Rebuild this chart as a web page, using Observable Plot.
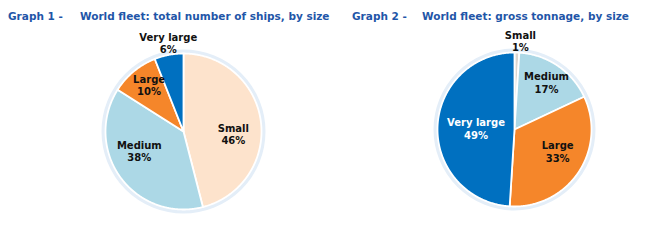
<!DOCTYPE html>
<html>
<head>
<meta charset="utf-8">
<script src="https://cdn.jsdelivr.net/npm/d3@7"></script>
<script src="https://cdn.jsdelivr.net/npm/@observablehq/plot@0.6"></script>
<style>
  html, body { margin: 0; padding: 0; background: #fff; }
  #wrap { width: 660px; height: 251px; position: relative; overflow: hidden; font-family: "DejaVu Sans", Verdana, sans-serif; }
  #titles { position: relative; height: 26px; }
  .t { position: absolute; top: 10px; font-size: 10.5px; font-weight: bold; color: #1f56a8; white-space: nowrap; }
</style>
</head>
<body>
<div id="wrap">
  <div id="titles">
    <span class="t" style="left:8px">Graph 1 -</span>
    <span class="t" style="left:80px">World fleet: total number of ships, by size</span>
    <span class="t" style="left:352px">Graph 2 -</span>
    <span class="t" style="left:422px">World fleet: gross tonnage, by size</span>
  </div>
  <div id="chart"></div>
</div>
<script>
// ---- data ----
const categories = ["Small", "Medium", "Large", "Very large"];
const shipsShare = [46, 38, 10, 6];      // Graph 1: % of number of ships
const tonnageShare = [1, 17, 33, 49];    // Graph 2: % of gross tonnage

// ---- styles / layout ----
const colors1 = ["#fde3cc", "#acd8e6", "#f5862a", "#0070c0"];
const colors2 = ["#ddd6cf", "#acd8e6", "#f5862a", "#0070c0"];
const W = 660, H = 225;
const pies = [
  {id: "g1", values: shipsShare, colors: colors1, cx: 183, cy: 105, r: 78,
   labelR: [0.64, 0.62, 0.74, 1.15], labelNudge: [10, 12, 3, 1], labelColor: ["#111", "#111", "#111", "#111"]},
  {id: "g2", values: tonnageShare, colors: colors2, cx: 514, cy: 103, r: 77,
   labelR: [1.15, 0.74, 0.63, 0.5], labelNudge: [2, 0, -7, 0], labelColor: ["#111", "#111", "#111", "#fff"]}
];

const slicePts = [];
const labels = [];
const halos = [];
for (const p of pies) {
  halos.push({x: p.cx, y: p.cy, r: p.r + 2});
  const arcs = d3.pie().sort(null).value(d => d)(p.values);
  arcs.forEach((a, i) => {
    const key = p.id + "-" + i;
    const n = Math.max(2, Math.ceil((a.endAngle - a.startAngle) / 0.01));
    slicePts.push({key, color: p.colors[i], x: p.cx, y: p.cy});
    for (let k = 0; k <= n; k++) {
      const t = a.startAngle + (a.endAngle - a.startAngle) * k / n;
      slicePts.push({key, color: p.colors[i], x: p.cx + p.r * Math.sin(t), y: p.cy - p.r * Math.cos(t)});
    }
    const mid = (a.startAngle + a.endAngle) / 2 + p.labelNudge[i] * Math.PI / 180;
    const lr = p.r * p.labelR[i];
    labels.push({
      x: p.cx + lr * Math.sin(mid),
      y: p.cy - lr * Math.cos(mid),
      text: categories[i] + "\n" + p.values[i] + "%",
      color: p.labelColor[i]
    });
  });
}

const chart = Plot.plot({
  width: W, height: H,
  margin: 0,
  x: {domain: [0, W], range: [0, W], axis: null},
  y: {domain: [0, H], range: [0, H], axis: null},
  r: {type: "identity"},
  style: {fontFamily: "'DejaVu Sans', Verdana, sans-serif", background: "white"},
  marks: [
    Plot.dot(halos, {x: "x", y: "y", r: "r", stroke: "#e4eef8", strokeWidth: 4, fill: "none"}),
    Plot.line(slicePts, {x: "x", y: "y", z: "key", fill: "color", stroke: "white", strokeWidth: 1.8, strokeLinejoin: "round", curve: "linear-closed"}),
    Plot.text(labels, {x: "x", y: "y", text: "text", fill: "color", fontSize: 10, fontWeight: "bold", lineHeight: 1.25, lineAnchor: "middle", textAnchor: "middle"})
  ]
});
document.getElementById("chart").appendChild(chart);
</script>
</body>
</html>
